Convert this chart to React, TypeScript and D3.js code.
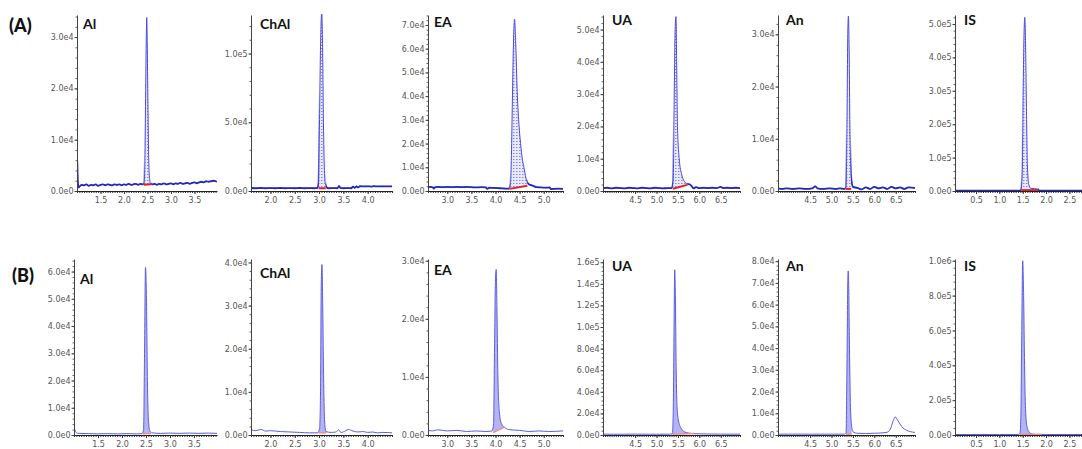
import { useEffect, useRef } from 'react'
import * as d3 from 'd3'

type Pt = [number, number]

// panel names and row labels
const panelNames = ['Al', 'ChAl', 'EA', 'UA', 'An', 'IS']
const rowLabels = ['(A)', '(B)']

// retention time axes (min)
const xDomains: [number, number][] = [
  [1.0, 3.98], [1.6, 4.5], [2.6, 5.4], [3.75, 6.95], [3.75, 6.95], [0.05, 2.77],
]
const xTickValues = [
  [1.5, 2.0, 2.5, 3.0, 3.5],
  [2.0, 2.5, 3.0, 3.5, 4.0],
  [3.0, 3.5, 4.0, 4.5, 5.0],
  [4.5, 5.0, 5.5, 6.0, 6.5],
  [4.5, 5.0, 5.5, 6.0, 6.5],
  [0.5, 1.0, 1.5, 2.0, 2.5],
]

// intensity axes, row A
const yMaxA = [34300, 128000, 74200, 54500, 33700, 527000]
const yTicksA = [
  [0, 10000, 20000, 30000],
  [0, 50000, 100000],
  [0, 10000, 20000, 30000, 40000, 50000, 60000, 70000],
  [0, 10000, 20000, 30000, 40000, 50000],
  [0, 10000, 20000, 30000],
  [0, 100000, 200000, 300000, 400000, 500000],
]
// intensity axes, row B
const yMaxB = [64600, 40800, 30300, 163000, 81000, 1010000]
const yTicksB = [
  [0, 10000, 20000, 30000, 40000, 50000, 60000],
  [0, 10000, 20000, 30000, 40000],
  [0, 10000, 20000, 30000],
  [0, 20000, 40000, 60000, 80000, 100000, 120000, 140000, 160000],
  [0, 10000, 20000, 30000, 40000, 50000, 60000, 70000, 80000],
  [0, 200000, 400000, 600000, 800000, 1000000],
]

// chromatograms, row A  [time, intensity]
const alA: Pt[] = [
  [1.0, 6200], [1.005, 5800], [1.015, 2500], [1.03, 700], [1.06, 900], [1.1, 1200], [1.15, 1100],
  [1.2, 1300], [1.25, 1000], [1.3, 1200], [1.35, 1100], [1.4, 1300], [1.45, 1000], [1.5, 1200],
  [1.55, 1300], [1.6, 1100], [1.65, 1300], [1.7, 1200], [1.75, 1100], [1.8, 1300], [1.85, 1200],
  [1.9, 1300], [1.95, 1100], [2.0, 1300], [2.05, 1200], [2.1, 1400], [2.15, 1200], [2.2, 1300],
  [2.25, 1400], [2.3, 1200], [2.35, 1400], [2.4, 1300], [2.43, 1500], [2.445, 6000], [2.46, 18000],
  [2.475, 30000], [2.485, 33800], [2.495, 29000], [2.51, 17000], [2.525, 7000], [2.54, 3000],
  [2.56, 1600], [2.6, 1300], [2.65, 1400], [2.7, 1200], [2.75, 1400], [2.8, 1300], [2.85, 1500],
  [2.9, 1300], [2.95, 1400], [3.0, 1500], [3.05, 1300], [3.1, 1500], [3.15, 1400], [3.2, 1600],
  [3.25, 1400], [3.3, 1500], [3.35, 1600], [3.4, 1400], [3.45, 1600], [3.5, 1700], [3.55, 1500],
  [3.6, 1700], [3.65, 1800], [3.7, 1700], [3.75, 1900], [3.8, 1800], [3.85, 1900], [3.9, 2000],
  [3.95, 1900], [3.98, 1800],
]
const chalA: Pt[] = [
  [1.6, 2200], [1.7, 2000], [1.8, 2200], [1.9, 2000], [2.0, 2100], [2.1, 2000], [2.2, 2200],
  [2.3, 2000], [2.4, 2100], [2.5, 2000], [2.6, 2200], [2.7, 2000], [2.8, 2100], [2.9, 2000],
  [2.97, 2200], [2.99, 6000], [3.005, 40000], [3.03, 105000], [3.055, 130000], [3.07, 110000],
  [3.09, 50000], [3.11, 15000], [3.13, 5000], [3.16, 2500], [3.2, 2000], [3.3, 2100], [3.38, 2000],
  [3.41, 3800], [3.44, 2200], [3.5, 2000], [3.6, 2100], [3.66, 2000], [3.7, 3200], [3.73, 2300],
  [3.77, 3400], [3.8, 2600], [3.84, 3500], [3.9, 3300], [4.0, 3400], [4.08, 3200], [4.12, 3500],
  [4.2, 3300], [4.3, 3400], [4.4, 3300], [4.5, 3400],
]
const eaA: Pt[] = [
  [2.6, 1600], [2.65, 1700], [2.7, 1500], [2.72, 1000], [2.75, 1600], [2.8, 1700], [2.9, 1600],
  [3.0, 1700], [3.1, 1600], [3.2, 1700], [3.3, 1600], [3.4, 1700], [3.5, 1600], [3.6, 1500],
  [3.7, 1600], [3.8, 1500], [3.83, 900], [3.87, 1400], [3.95, 1300], [4.05, 1200], [4.15, 1100],
  [4.22, 1000], [4.28, 1000], [4.31, 3000], [4.33, 15000], [4.35, 38000], [4.37, 60000],
  [4.395, 72500], [4.42, 62000], [4.45, 42000], [4.48, 30000], [4.52, 20000], [4.56, 13000],
  [4.59, 10000], [4.63, 5500], [4.67, 3200], [4.72, 2600], [4.78, 2200], [4.85, 1600], [4.95, 1500],
  [5.05, 1400], [5.12, 1500], [5.15, 800], [5.2, 900], [5.3, 1000], [5.4, 900],
]
const uaA: Pt[] = [
  [3.75, 900], [3.85, 1000], [3.95, 800], [4.05, 1000], [4.15, 900], [4.25, 800], [4.35, 1000],
  [4.45, 900], [4.55, 800], [4.65, 1000], [4.75, 900], [4.85, 800], [4.95, 1000], [5.05, 900],
  [5.15, 800], [5.25, 900], [5.35, 900], [5.39, 3000], [5.41, 25000], [5.435, 50000], [5.455, 54000],
  [5.47, 40000], [5.49, 20000], [5.53, 10000], [5.59, 5000], [5.65, 3000], [5.72, 2200],
  [5.78, 2000], [5.82, 1500], [5.87, 800], [5.92, 1200], [6.0, 900], [6.1, 1000], [6.2, 900],
  [6.3, 1000], [6.4, 900], [6.5, 1300], [6.55, 900], [6.65, 1000], [6.75, 900], [6.85, 1000],
  [6.95, 900],
]
const anA: Pt[] = [
  [3.75, 500], [3.85, 400], [3.95, 500], [4.1, 400], [4.25, 500], [4.4, 400], [4.55, 500],
  [4.62, 900], [4.67, 500], [4.8, 400], [4.95, 500], [5.1, 400], [5.2, 500], [5.3, 400],
  [5.34, 800], [5.36, 12000], [5.38, 30000], [5.395, 33500], [5.41, 28000], [5.43, 12000],
  [5.46, 2500], [5.5, 800], [5.6, 600], [5.7, 300], [5.8, 700], [5.9, 400], [6.0, 800],
  [6.1, 500], [6.2, 700], [6.3, 400], [6.4, 800], [6.5, 500], [6.6, 700], [6.7, 400],
  [6.8, 700], [6.95, 600],
]
const isA: Pt[] = [
  [0.05, 1000], [0.3, 1000], [0.6, 1000], [0.9, 1000], [1.2, 1000], [1.4, 1000], [1.46, 2000],
  [1.49, 50000], [1.51, 300000], [1.53, 480000], [1.545, 520000], [1.56, 450000], [1.58, 250000],
  [1.6, 80000], [1.63, 20000], [1.67, 8000], [1.75, 7000], [1.82, 6000], [1.85, 1500],
  [2.0, 1000], [2.3, 1000], [2.77, 1000],
]

// chromatograms, row B
const alB: Pt[] = [
  [1.0, 2500], [1.02, 1800], [1.05, 800], [1.1, 600], [1.3, 500], [1.5, 400], [1.7, 500],
  [1.9, 400], [2.1, 500], [2.3, 400], [2.42, 500], [2.45, 2000], [2.47, 30000], [2.49, 61500],
  [2.51, 50000], [2.53, 20000], [2.55, 6000], [2.58, 1500], [2.62, 800], [2.8, 600], [3.0, 700],
  [3.2, 600], [3.4, 700], [3.6, 600], [3.8, 700], [3.98, 600],
]
const chalB: Pt[] = [
  [1.6, 1200], [1.7, 1000], [1.8, 1300], [1.9, 900], [2.0, 1000], [2.2, 800], [2.4, 700],
  [2.6, 600], [2.8, 500], [2.97, 500], [3.01, 1500], [3.03, 10000], [3.045, 35000], [3.06, 39500],
  [3.075, 30000], [3.095, 12000], [3.115, 3000], [3.14, 800], [3.25, 600], [3.35, 700], [3.4, 1200],
  [3.45, 600], [3.55, 1000], [3.6, 1300], [3.7, 900], [3.8, 700], [3.9, 800], [4.0, 600],
  [4.1, 700], [4.2, 500], [4.3, 600], [4.5, 500],
]
const eaB: Pt[] = [
  [2.6, 800], [2.7, 700], [2.8, 900], [3.0, 700], [3.2, 800], [3.4, 600], [3.6, 700], [3.8, 600],
  [3.93, 700], [3.96, 2000], [3.98, 15000], [4.0, 27000], [4.015, 28500], [4.03, 22000],
  [4.05, 10000], [4.08, 4000], [4.12, 2000], [4.2, 1200], [4.3, 900], [4.5, 800], [4.7, 600],
  [4.9, 700], [5.1, 600], [5.4, 700],
]
const uaB: Pt[] = [
  [3.75, 800], [4.0, 700], [4.5, 800], [5.0, 700], [5.3, 800], [5.37, 1000], [5.39, 20000],
  [5.41, 100000], [5.425, 153000], [5.44, 130000], [5.46, 60000], [5.48, 25000], [5.52, 12000],
  [5.58, 6000], [5.65, 3000], [5.75, 1800], [5.9, 1200], [6.2, 900], [6.5, 800], [6.95, 800],
]
const anB: Pt[] = [
  [3.75, 400], [4.0, 400], [4.5, 400], [5.0, 400], [5.3, 400], [5.34, 800], [5.36, 30000],
  [5.38, 70000], [5.39, 75500], [5.4, 70000], [5.42, 40000], [5.44, 15000], [5.47, 4000],
  [5.5, 1500], [5.6, 800], [5.8, 700], [6.0, 800], [6.2, 1000], [6.3, 1300], [6.37, 2500],
  [6.44, 6500], [6.49, 8300], [6.54, 7000], [6.6, 5000], [6.67, 3200], [6.75, 2200],
  [6.85, 1500], [6.95, 1200],
]
const isB: Pt[] = [
  [0.05, 3000], [0.5, 3000], [1.0, 3000], [1.4, 3000], [1.44, 8000], [1.46, 100000],
  [1.48, 600000], [1.5, 1000000], [1.52, 800000], [1.54, 400000], [1.56, 150000], [1.59, 50000],
  [1.63, 20000], [1.68, 8000], [1.75, 4000], [2.0, 3000], [2.77, 3000],
]

const tracesA = [alA, chalA, eaA, uaA, anA, isA]
const tracesB = [alB, chalB, eaB, uaB, anB, isB]

// integrated peak windows: [start, end, baseline at start, baseline at end]
const peaksA: [number, number, number, number][] = [
  [2.42, 2.58, 1200, 1300], [2.99, 3.14, 2000, 2000], [4.29, 4.66, 900, 2200],
  [5.38, 5.72, 700, 1900], [5.33, 5.46, 400, 400], [1.47, 1.83, 2500, 2500],
]
const peaksB: [number, number, number, number][] = [
  [2.43, 2.6, 500, 500], [2.99, 3.15, 500, 500], [3.95, 4.2, 400, 1400],
  [5.38, 5.88, 800, 1500], [5.34, 5.47, 400, 400], [1.44, 1.9, 3000, 3000],
]

// layout
const W = 1082
const H = 449
const plotRight = [217, 392, 563, 740, 915, 1082]
const rowLayout = [
  { top: 15, bottom: 191, lefts: [77, 251, 428, 603, 778, 955], labelY: [29, 29, 27, 25, 25, 25], rowX: 9, rowY: 32 },
  { top: 259, bottom: 435, lefts: [74, 251, 428, 603, 778, 955], labelY: [284, 278, 275, 271, 271, 271], rowX: 12, rowY: 282 },
]
const labelDx = [6, 9, 6, 9, 8, 9]

const fmtE = (v: number) => d3.format('.1e')(v).replace('+', '')

export default function App() {
  const svgRef = useRef<SVGSVGElement>(null)

  useEffect(() => {
    const svg = d3.select(svgRef.current)
    svg.selectAll('*').remove()
    const defs = svg.append('defs')

    // dotted hatch for row A peaks
    const pat = defs.append('pattern').attr('id', 'hatch')
      .attr('width', 3).attr('height', 3).attr('patternUnits', 'userSpaceOnUse')
    pat.append('rect').attr('width', 3).attr('height', 3).attr('fill', '#e9e9fc')
    pat.append('rect').attr('width', 1.5).attr('height', 1).attr('fill', '#8585e6')

    rowLayout.forEach((row, r) => {
      const traces = r === 0 ? tracesA : tracesB
      const peaks = r === 0 ? peaksA : peaksB
      const yMax = r === 0 ? yMaxA : yMaxB
      const yTicks = r === 0 ? yTicksA : yTicksB

      svg.append('text')
        .attr('x', row.rowX).attr('y', row.rowY)
        .attr('font-family', 'Lato, "Open Sans", sans-serif')
        .attr('font-weight', 900).attr('font-size', 18).attr('fill', '#111')
        .text(rowLabels[r])

      panelNames.forEach((name, i) => {
        const left = row.lefts[i]
        const right = plotRight[i]
        const x = d3.scaleLinear().domain(xDomains[i]).range([left, right])
        const y = d3.scaleLinear().domain([0, yMax[i]]).range([row.bottom, row.top])
        const g = svg.append('g')

        const clipId = `clip-${r}-${i}`
        defs.append('clipPath').attr('id', clipId).append('rect')
          .attr('x', left).attr('y', row.top - 1)
          .attr('width', right - left).attr('height', row.bottom - row.top + 2)

        const [ps, pe, b0, b1] = peaks[i]
        const base = d3.scaleLinear().domain([ps, pe]).range([b0, b1])
        const peakId = `peak-${r}-${i}`
        defs.append('clipPath').attr('id', peakId).append('rect')
          .attr('x', x(ps)).attr('y', row.top - 1)
          .attr('width', x(pe) - x(ps)).attr('height', row.bottom - row.top + 1)
        // everything outside the peak window
        const outId = `out-${r}-${i}`
        const outClip = defs.append('clipPath').attr('id', outId)
        outClip.append('rect').attr('x', left).attr('y', row.top - 1)
          .attr('width', x(ps) - left).attr('height', row.bottom - row.top + 3)
        outClip.append('rect').attr('x', x(pe)).attr('y', row.top - 1)
          .attr('width', right - x(pe)).attr('height', row.bottom - row.top + 3)

        const plot = g.append('g').attr('clip-path', `url(#${clipId})`)

        // integrated peak area
        const area = d3.area<Pt>()
          .x(d => x(d[0]))
          .y0(d => y(base(d[0])))
          .y1(d => y(d[1]))
          .curve(d3.curveMonotoneX)
        plot.append('g').attr('clip-path', `url(#${peakId})`)
          .append('path')
          .attr('d', area(traces[i]))
          .attr('fill', r === 0 ? 'url(#hatch)' : '#b4b4f1')

        // x axis (minor + major)
        const minorX = d3.range(Math.ceil(xDomains[i][0] * 20), Math.floor(xDomains[i][1] * 20) + 1).map(k => k / 20)
        const xMinor = g.append('g').attr('transform', `translate(0,${row.bottom})`)
          .call(d3.axisBottom(x).tickValues(minorX).tickSize(2).tickFormat(() => ''))
        xMinor.select('.domain').remove()
        xMinor.selectAll('line').attr('stroke', '#333')

        const xAxis = g.append('g').attr('transform', `translate(0,${row.bottom})`)
          .call(d3.axisBottom(x).tickValues(xTickValues[i]).tickSize(3).tickSizeOuter(0)
            .tickPadding(3).tickFormat(d3.format('.1f')))
        xAxis.select('.domain').attr('stroke', '#222')
        xAxis.selectAll('line').attr('stroke', '#333')
        xAxis.selectAll('text')
          .attr('font-family', '"DejaVu Sans", Verdana, sans-serif')
          .attr('font-size', 8).attr('fill', '#555')

        // y axis (minor + major)
        const step = yTicks[i][1] - yTicks[i][0]
        const minorY = d3.range(0, Math.floor(yMax[i] / (step / 5)) + 1).map(k => k * step / 5)
        const yMinor = g.append('g').attr('transform', `translate(${left},0)`)
          .call(d3.axisLeft(y).tickValues(minorY).tickSize(1.5).tickFormat(() => ''))
        yMinor.select('.domain').remove()
        yMinor.selectAll('line').attr('stroke', '#666')

        const yAxis = g.append('g').attr('transform', `translate(${left},0)`)
          .call(d3.axisLeft(y).tickValues(yTicks[i]).tickSize(2.5).tickSizeOuter(0)
            .tickPadding(1).tickFormat(d => fmtE(d as number)))
        yAxis.select('.domain').attr('stroke', '#444')
        yAxis.selectAll('line').attr('stroke', '#444')
        yAxis.selectAll('text')
          .attr('font-family', '"DejaVu Sans", Verdana, sans-serif')
          .attr('font-size', 8).attr('fill', '#555')

        // chromatogram trace
        const line = d3.line<Pt>()
          .x(d => x(d[0]))
          .y(d => y(d[1]))
          .curve(d3.curveMonotoneX)
        plot.append('path')
          .attr('d', line(traces[i]))
          .attr('fill', 'none')
          .attr('stroke', r === 0 ? '#4848de' : '#5c5ce4')
          .attr('stroke-width', 1)
          .attr('stroke-linejoin', 'round')
        if (r === 0) {
          // heavier baseline outside the integrated peak
          plot.append('g').attr('clip-path', `url(#${outId})`)
            .append('path')
            .attr('d', line(traces[i]))
            .attr('fill', 'none')
            .attr('stroke', '#2828b8')
            .attr('stroke-width', 1.8)
            .attr('stroke-linejoin', 'round')
        }

        // integration baseline
        plot.append('line')
          .attr('x1', x(ps)).attr('x2', x(pe))
          .attr('y1', y(b0)).attr('y2', y(b1))
          .attr('stroke', r === 0 ? '#e02222' : '#f08a8a')
          .attr('stroke-width', r === 0 ? 2 : 1.5)

        // compound label
        g.append('text')
          .attr('x', left + labelDx[i]).attr('y', row.labelY[i])
          .attr('font-family', 'Lato, "Open Sans", sans-serif')
          .attr('font-weight', 700).attr('font-size', 14).attr('fill', '#111')
          .text(name)
      })
    })
  }, [])

  return (
    <div style={{ position: 'absolute', left: 0, top: 0 }}>
      <svg ref={svgRef} width={W} height={H} style={{ display: 'block', background: '#fff' }} />
    </div>
  )
}
